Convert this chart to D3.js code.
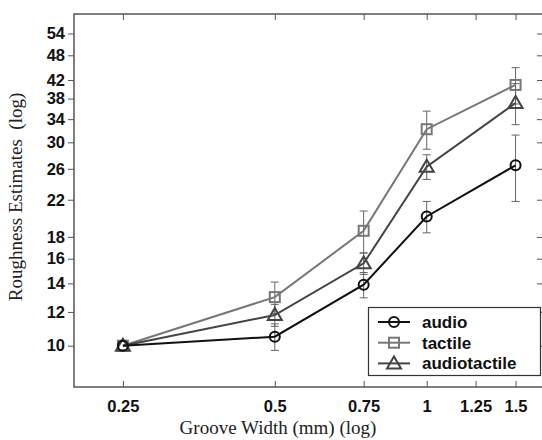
<!DOCTYPE html>
<html><head><meta charset="utf-8">
<script src="https://cdn.jsdelivr.net/npm/d3@7"></script>
<style>body{margin:0;background:#fff}svg{display:block}</style>
</head><body><svg id="c" width="542" height="440"></svg>
<script>
const widths = [0.25, 0.5, 0.75, 1, 1.5];
const xTicks = [0.25, 0.5, 0.75, 1, 1.25, 1.5];
const yTicks = [10, 12, 14, 16, 18, 22, 26, 30, 34, 38, 42, 48, 54];
const audio = [10, 10.5, 13.9, 20.1, 26.5];
const audioErr = [0, 0.75, 0.95, 1.7, 4.7];
const tactile = [10, 13.0, 18.6, 32.2, 40.9];
const tactileErr = [0, 1.1, 2.1, 3.3, 4.0];
const audiotactile = [10, 11.8, 15.6, 26.3, 37.1];
const audiotactileErr = [0, 0.7, 0.9, 1.75, 4.1];
const seriesNames = ["audio", "tactile", "audiotactile"];

const svg = d3.select("#c");
const L = 74, T = 14, R = 543, B = 387;
const x = d3.scaleLog().domain([0.2, 1.7]).range([L, R]);
const y = d3.scaleLog().domain([8, 60]).range([B, T]);

const series = [
  {name: seriesNames[0], v: audio, e: audioErr, color: "#111", sym: "circle"},
  {name: seriesNames[1], v: tactile, e: tactileErr, color: "#777", sym: "square"},
  {name: seriesNames[2], v: audiotactile, e: audiotactileErr, color: "#444", sym: "triangle"}
];

const fmt = d => String(d);
const gl = svg.append("g").attr("transform", `translate(${L},0)`)
  .call(d3.axisLeft(y).tickValues(yTicks).tickFormat(fmt).tickSize(6).tickPadding(3));
const gb = svg.append("g").attr("transform", `translate(0,${B})`)
  .call(d3.axisBottom(x).tickValues(xTicks).tickFormat(fmt).tickSizeInner(-6).tickSizeOuter(0).tickPadding(13));
const gt = svg.append("g").attr("transform", `translate(0,${T})`)
  .call(d3.axisTop(x).tickValues(xTicks).tickFormat("").tickSizeInner(-6).tickSizeOuter(0));
const gr = svg.append("g").attr("transform", `translate(${R},0)`)
  .call(d3.axisRight(y).tickValues(yTicks).tickFormat("").tickSizeInner(-6).tickSizeOuter(0));
[gl, gb, gt, gr].forEach(g => {
  g.select(".domain").remove();
  g.selectAll(".tick line").attr("stroke", "#555").attr("stroke-width", 1);
  g.selectAll("text").attr("font-family", "Liberation Sans, Arial, sans-serif")
    .attr("font-weight", "bold").attr("font-size", 16.5).attr("fill", "#111");
});
gb.selectAll("text").attr("dy", "0.71em");
svg.append("rect").attr("x", L).attr("y", T).attr("width", R - L).attr("height", B - T)
  .attr("fill", "none").attr("stroke", "#555").attr("stroke-width", 1.5);

const cap = 4;
series.forEach(s => {
  const g = svg.append("g");
  widths.forEach((w, i) => {
    if (!s.e[i]) return;
    const cx = x(w), y1 = y(s.v[i] + s.e[i]), y2 = y(s.v[i] - s.e[i]);
    g.append("line").attr("x1", cx).attr("x2", cx).attr("y1", y1).attr("y2", y2)
      .attr("stroke", "#666").attr("stroke-width", 1);
    [y1, y2].forEach(yy => g.append("line").attr("x1", cx - cap).attr("x2", cx + cap)
      .attr("y1", yy).attr("y2", yy).attr("stroke", "#666").attr("stroke-width", 1));
  });
});

function marker(g, sym, cx, cy, color) {
  if (sym === "circle") g.append("circle").attr("cx", cx).attr("cy", cy).attr("r", 5)
    .attr("fill", "none").attr("stroke", color).attr("stroke-width", 2);
  else if (sym === "square") g.append("rect").attr("x", cx - 5).attr("y", cy - 5).attr("width", 10).attr("height", 10)
    .attr("fill", "none").attr("stroke", color).attr("stroke-width", 2);
  else g.append("path").attr("d", `M${cx},${cy - 7}L${cx + 7},${cy + 5}L${cx - 7},${cy + 5}Z`)
    .attr("fill", "none").attr("stroke", color).attr("stroke-width", 2);
}

const line = d3.line().x((d, i) => x(widths[i])).y(d => y(d));
[series[1], series[2], series[0]].forEach(s => {
  svg.append("path").datum(s.v).attr("d", line).attr("fill", "none")
    .attr("stroke", s.color).attr("stroke-width", 2);
  const g = svg.append("g");
  s.v.forEach((v, i) => marker(g, s.sym, x(widths[i]), y(v), s.color));
});

svg.append("text").attr("x", 278).attr("y", 434).attr("text-anchor", "middle")
  .attr("font-family", "Liberation Serif, Times New Roman, serif").attr("font-size", 19).attr("fill", "#222")
  .text("Groove Width (mm) (log)");
svg.append("text").attr("transform", "translate(22,197) rotate(-90)").attr("text-anchor", "middle")
  .attr("font-family", "Liberation Serif, Times New Roman, serif").attr("font-size", 19).attr("fill", "#222")
  .attr("xml:space", "preserve")
  .text("Roughness Estimates  (log)");

const lg = svg.append("g");
lg.append("rect").attr("x", 368.5).attr("y", 307.5).attr("width", 172).attr("height", 68)
  .attr("fill", "#fff").attr("stroke", "#333").attr("stroke-width", 1.2);
series.forEach((s, i) => {
  const yy = 322 + i * 20.7;
  lg.append("line").attr("x1", 378).attr("x2", 410).attr("y1", yy).attr("y2", yy)
    .attr("stroke", s.color).attr("stroke-width", 2);
  marker(lg, s.sym, 394, yy, s.color);
  lg.append("text").attr("x", 422).attr("y", yy).attr("dy", "0.35em")
    .attr("font-family", "Liberation Sans, Arial, sans-serif").attr("font-weight", "bold")
    .attr("font-size", 17).attr("fill", "#111").text(s.name);
});
</script></body></html>
